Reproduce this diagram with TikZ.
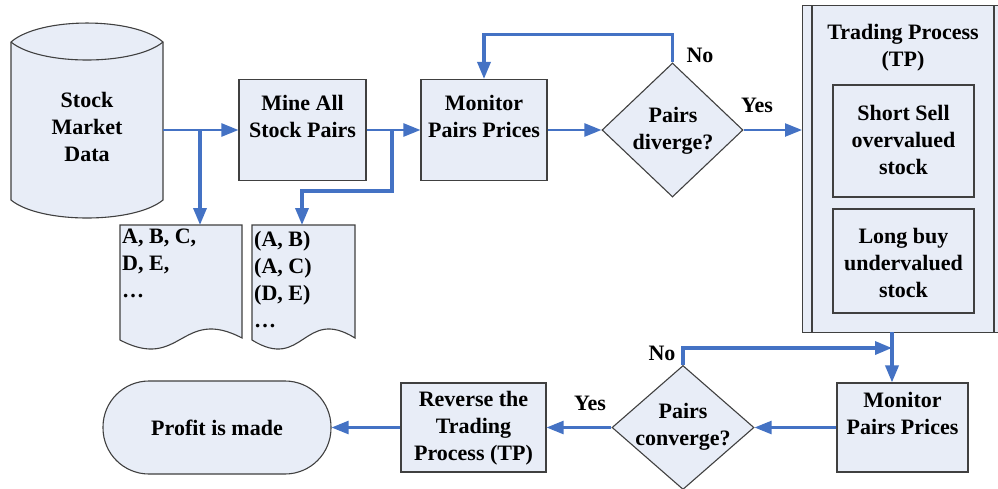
\documentclass[tikz,border=0pt]{standalone}
\usepackage{fontspec}
\setmainfont{Liberation Serif}
\usetikzlibrary{shapes.geometric,arrows.meta}

\definecolor{boxfill}{HTML}{E8EDF7}
\definecolor{edgegray}{HTML}{404040}
\definecolor{flowblue}{HTML}{4472C4}

\begin{document}
\begin{tikzpicture}[x=1pt,y=-1pt,
  shapefill/.style={fill=boxfill,draw=edgegray,line width=1.1pt},
  boxnode/.style={shapefill,rectangle,inner sep=0pt},
  lbl/.style={font=\bfseries\fontsize{22}{27}\selectfont,align=center,inner sep=0pt,text=black},
  lbll/.style={lbl,align=left},
  flow/.style={draw=flowblue,line width=2.4pt,-{Triangle[length=17pt,width=13pt]}},
  flowthick/.style={flow,line width=3.4pt}
]
\clip (0,0) rectangle (998,488);
\fill[white] (0,0) rectangle (998,488);

% data store (cylinder)
\path[shapefill] (11,42) .. controls (40,16.7) and (134,16.7) .. (163,42)
  -- (163,200) .. controls (134,224) and (40,224) .. (11,200) -- cycle;
\draw[edgegray,line width=1.1pt] (11,42) .. controls (40,66) and (134,66) .. (163,42);
\node[lbl] (cyltxt) at (87,127) {Stock\\Market\\Data};
\coordinate (cylE) at (163,130);

% documents
\path[shapefill] (120,225) -- (242,225) -- (242,338)
  .. controls (181,306) and (181,372) .. (120,340) -- cycle;
\path[shapefill] (252,225) -- (355,225) -- (355,338)
  .. controls (303.5,306) and (303.5,372) .. (252,340) -- cycle;
\node[lbll,anchor=north west] (doc1txt) at (122,229) {A, B, C,\\D, E,\\\dots};
\node[lbll,anchor=north west] (doc2txt) at (254,231) {(A, B)\\(A, C)\\(D, E)\\\dots};
\coordinate (d1) at (200,225);
\coordinate (d2) at (302,225);

% process boxes
\node[boxnode,minimum width=127pt,minimum height=101pt] (mine) at (302.5,130) {};
\node[lbl] (minetxt) at (302.5,116.5) {Mine All\\Stock Pairs};
\node[boxnode,minimum width=126pt,minimum height=101pt] (mon1) at (484,130) {};
\node[lbl] (mon1txt) at (484,116.5) {Monitor\\Pairs Prices};

% decision 1
\node[diamond,shapefill,inner sep=0pt,minimum width=141pt,minimum height=134pt] (dv) at (672.5,130) {};
\node[lbl] (dvtxt) at (673,131) {Pairs\\diverge?};
\node[lbl] (no1) at (700,55) {No};
\node[lbl] (yes1) at (757,105) {Yes};

% trading process
\node[boxnode,anchor=north west,minimum width=202pt,minimum height=327pt] (tp) at (802,5) {};
\draw[edgegray,line width=1.1pt] (812,5) -- (812,332);
\draw[edgegray,line width=1.1pt] (994,5) -- (994,332);
\node[lbl] (tptxt) at (903,47.5) {Trading Process\\(TP)};
\node[boxnode,minimum width=141pt,minimum height=112pt] (ss) at (903.5,141) {};
\node[lbl] (sstxt) at (903.5,140) {Short Sell\\overvalued\\stock};
\node[boxnode,minimum width=141pt,minimum height=104pt] (lb) at (903.5,261) {};
\node[lbl] (lbtxt) at (903.5,263) {Long buy\\undervalued\\stock};
\coordinate (tpS) at (892,332);

% lower row
\node[boxnode,minimum width=131pt,minimum height=89pt] (mon2) at (902.5,427.5) {};
\node[lbl] (mon2txt) at (902.5,413.5) {Monitor\\Pairs Prices};
\node[diamond,shapefill,inner sep=0pt,minimum width=142pt,minimum height=124pt] (dc) at (683,427.5) {};
\node[lbl] (dctxt) at (683,427) {Pairs\\converge?};
\node[lbl] (no2) at (662,353) {No};
\node[lbl] (yes2) at (590,403) {Yes};
\coordinate (jn) at (892,348);
\node[boxnode,minimum width=145pt,minimum height=89pt] (rev) at (473.5,427.5) {};
\node[lbl] (revtxt) at (473.5,428) {Reverse the\\Trading\\Process (TP)};
\node[shapefill,rectangle,rounded corners=46pt,minimum width=228pt,minimum height=93pt,lbl] (profit) at (217,427.5) {Profit is made};

% connectors
\draw[flow] (cylE) -- (mine.west);
\coordinate (br1) at (200,130);
\draw[flowthick] (br1) -- (d1);
\draw[flow] (mine.east) -- (mon1.west);
\coordinate (br2) at (392,130);
\draw[flowthick] (br2) -- ++(0,61) -| (d2);
\draw[flow] (mon1.east) -- (dv.west);
\draw[flowthick] (dv.north) -- ++(0,-28) -| (mon1.north);
\draw[flow] (dv.east) -- (tp.west |- dv.east);
\draw[flowthick] (tpS) -- (tpS |- mon2.north);
\draw[flowthick] (dc.north) |- (jn);
\draw[flow] (mon2.west) -- (dc.east);
\draw[flow] (dc.west) -- (rev.east);
\draw[flow] (rev.west) -- (profit.east);
\end{tikzpicture}
\end{document}
